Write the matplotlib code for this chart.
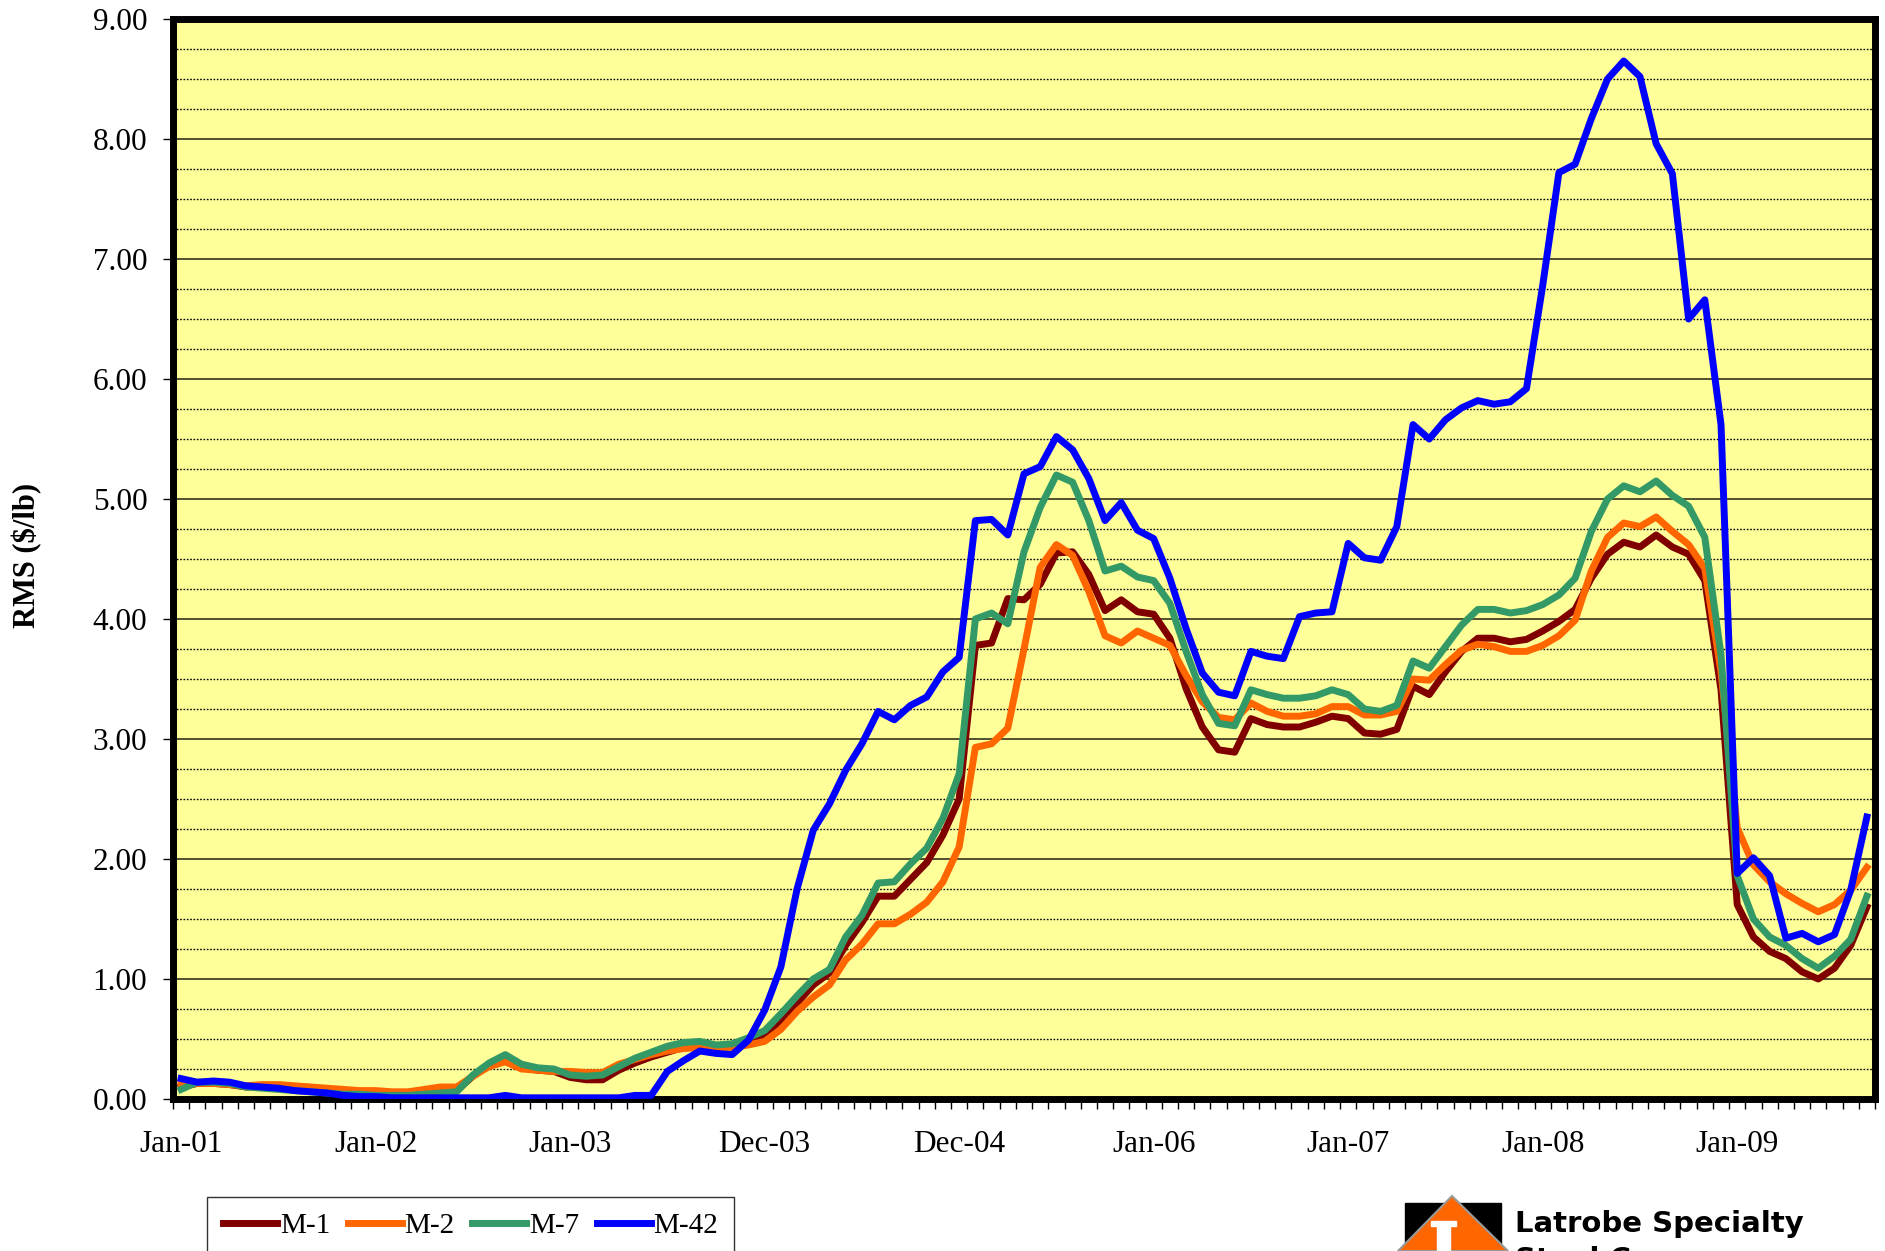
import numpy as np
import matplotlib
matplotlib.use("Agg")
import matplotlib.pyplot as plt
from matplotlib.ticker import MultipleLocator, FixedLocator
from matplotlib.patches import Polygon, Rectangle

plt.rcParams['font.family'] = ['Liberation Serif', 'DejaVu Serif']

# monthly RMS ($/lb), Jan-01 .. Sep-09
m1 = [0.10, 0.13, 0.13, 0.12, 0.10, 0.10, 0.09, 0.08, 0.07, 0.06,
      0.05, 0.04, 0.04, 0.03, 0.03, 0.04, 0.06, 0.07, 0.19, 0.28,
      0.33, 0.26, 0.24, 0.23, 0.18, 0.16, 0.16, 0.24, 0.30, 0.35,
      0.39, 0.43, 0.45, 0.43, 0.44, 0.47, 0.53, 0.66, 0.80, 0.95,
      1.05, 1.28, 1.47, 1.69, 1.69, 1.83, 1.97, 2.20, 2.50, 3.78,
      3.80, 4.17, 4.16, 4.29, 4.55, 4.56, 4.37, 4.07, 4.16, 4.06,
      4.04, 3.84, 3.42, 3.10, 2.91, 2.89, 3.17, 3.12, 3.10, 3.10,
      3.14, 3.19, 3.17, 3.05, 3.04, 3.08, 3.44, 3.37, 3.56, 3.73,
      3.84, 3.84, 3.81, 3.83, 3.90, 3.98, 4.08, 4.34, 4.54, 4.64,
      4.60, 4.70, 4.60, 4.54, 4.32, 3.41, 1.62, 1.35, 1.23, 1.17,
      1.06, 1.00, 1.09, 1.28, 1.60]
m2 = [0.12, 0.13, 0.13, 0.12, 0.11, 0.12, 0.12, 0.11, 0.10, 0.09,
      0.08, 0.07, 0.07, 0.06, 0.06, 0.08, 0.10, 0.10, 0.19, 0.27,
      0.31, 0.25, 0.24, 0.23, 0.23, 0.22, 0.22, 0.29, 0.33, 0.37,
      0.40, 0.42, 0.43, 0.43, 0.43, 0.45, 0.48, 0.58, 0.73, 0.85,
      0.95, 1.16, 1.29, 1.46, 1.46, 1.54, 1.64, 1.81, 2.10, 2.93,
      2.96, 3.09, 3.75, 4.43, 4.62, 4.53, 4.23, 3.86, 3.80, 3.90,
      3.84, 3.78, 3.53, 3.31, 3.18, 3.16, 3.30, 3.23, 3.19, 3.19,
      3.21, 3.27, 3.27, 3.20, 3.20, 3.23, 3.50, 3.49, 3.62, 3.74,
      3.79, 3.77, 3.73, 3.73, 3.78, 3.86, 3.99, 4.40, 4.68, 4.80,
      4.77, 4.85, 4.73, 4.62, 4.42, 3.56, 2.26, 1.95, 1.81, 1.71,
      1.63, 1.56, 1.62, 1.74, 1.93]
m7 = [0.08, 0.14, 0.14, 0.13, 0.10, 0.09, 0.08, 0.07, 0.06, 0.05,
      0.04, 0.04, 0.03, 0.03, 0.03, 0.04, 0.05, 0.06, 0.20, 0.30,
      0.37, 0.29, 0.26, 0.25, 0.20, 0.19, 0.20, 0.27, 0.34, 0.39,
      0.44, 0.47, 0.48, 0.45, 0.46, 0.51, 0.57, 0.71, 0.86, 1.00,
      1.08, 1.35, 1.53, 1.80, 1.81, 1.96, 2.09, 2.34, 2.71, 4.00,
      4.05, 3.96, 4.56, 4.93, 5.20, 5.14, 4.82, 4.40, 4.44, 4.35,
      4.32, 4.13, 3.73, 3.37, 3.13, 3.11, 3.41, 3.37, 3.34, 3.34,
      3.36, 3.41, 3.37, 3.25, 3.23, 3.28, 3.65, 3.59, 3.77, 3.95,
      4.08, 4.08, 4.05, 4.07, 4.12, 4.20, 4.34, 4.73, 5.00, 5.11,
      5.06, 5.15, 5.03, 4.94, 4.68, 3.70, 1.86, 1.50, 1.35, 1.28,
      1.17, 1.09, 1.19, 1.33, 1.69]
m42 = [0.17, 0.14, 0.15, 0.14, 0.11, 0.10, 0.09, 0.07, 0.06, 0.05,
       0.03, 0.02, 0.02, 0.01, 0.01, 0.01, 0.01, 0.01, 0.01, 0.01,
       0.03, 0.01, 0.01, 0.01, 0.01, 0.01, 0.01, 0.01, 0.03, 0.03,
       0.23, 0.32, 0.40, 0.38, 0.37, 0.49, 0.74, 1.10, 1.75, 2.24,
       2.46, 2.74, 2.96, 3.23, 3.16, 3.28, 3.35, 3.56, 3.68, 4.82,
       4.83, 4.70, 5.21, 5.27, 5.52, 5.41, 5.17, 4.82, 4.97, 4.74,
       4.67, 4.34, 3.92, 3.55, 3.39, 3.36, 3.73, 3.69, 3.67, 4.02,
       4.05, 4.06, 4.63, 4.51, 4.49, 4.77, 5.62, 5.50, 5.66, 5.76,
       5.82, 5.79, 5.81, 5.92, 6.78, 7.72, 7.79, 8.17, 8.50, 8.65,
       8.52, 7.96, 7.71, 6.50, 6.66, 5.62, 1.88, 2.01, 1.86, 1.34,
       1.38, 1.31, 1.37, 1.74, 2.35]

series_names = ["M-1", "M-2", "M-7", "M-42"]
series_colors = ["#800000", "#FF6600", "#339966", "#0000FF"]
tick_labels = ["Jan-01", "Jan-02", "Jan-03", "Dec-03", "Dec-04",
               "Jan-06", "Jan-07", "Jan-08", "Jan-09"]
label_step = 12

W, H = 1885, 1251
fig = plt.figure(figsize=(W / 100, H / 100), dpi=100)
ax = fig.add_axes([173 / W, 152 / H, 1702 / W, 1080 / H])
ax.set_facecolor("#FFFF99")
ax.set_axisbelow(True)

x = np.arange(len(m1))
for vals, name, col in zip([m1, m2, m7, m42], series_names, series_colors):
    ax.plot(x, vals, color=col, lw=5, label=name, zorder=3)

ax.set_xlim(-0.5, len(m1) - 0.5)
ax.set_ylim(0, 9)

# y axis
ax.yaxis.set_major_locator(MultipleLocator(1))
ax.yaxis.set_minor_locator(MultipleLocator(0.25))
ax.yaxis.set_major_formatter(lambda v, p: f"{v:.2f}")
ax.grid(which='major', axis='y', color='#505030', lw=1.4, ls='-')
ax.grid(which='minor', axis='y', color='black', lw=1.0, ls=(0, (1.2, 1.2)))
ax.tick_params(axis='y', which='major', direction='out', length=7.5, width=1,
               pad=11, labelsize=22.5)
ax.tick_params(axis='y', which='minor', length=0)

# x axis: categories, labels every 12 months, ticks between categories
ax.xaxis.set_major_locator(FixedLocator(range(0, len(m1), label_step)))
ax.set_xticklabels(tick_labels)
ax.xaxis.set_minor_locator(FixedLocator(np.arange(-0.5, len(m1), 1)))
ax.tick_params(axis='x', which='major', length=0, pad=22, labelsize=22.5)
ax.tick_params(axis='x', which='minor', direction='out', length=7.5, width=1)

for s in ax.spines.values():
    s.set_linewidth(5)
    s.set_color('black')

fig.text(27 / W, 1 - 555 / H, r"RMS (\$/lb)", rotation=90, fontsize=22,
         fontweight='bold', ha='center', va='center')

leg = fig.legend(loc='upper left', bbox_to_anchor=(207 / W, 1 - 1197 / H),
                 ncol=4, fontsize=21, frameon=True, fancybox=False,
                 edgecolor='black', handlelength=1.85, handletextpad=0.1,
                 columnspacing=0.6, borderpad=0.55, borderaxespad=0)
leg.get_frame().set_linewidth(1.0)

# company logo, bottom right (cut by the page edge)
lg = fig.add_axes([1390 / W, 0, 440 / W, 61 / H])
lg.set_xlim(1390, 1830)
lg.set_ylim(1251, 1190)
lg.axis('off')
lg.add_patch(Rectangle((1405, 1203), 96, 50, color='black'))
lg.add_patch(Polygon([(1452, 1196), (1398, 1251), (1508, 1251)], closed=True,
                     facecolor='#FF6600', edgecolor='#999999', lw=1.5))
lg.add_patch(Rectangle((1437, 1224), 13, 30, color='white'))
lg.add_patch(Rectangle((1431, 1221), 25, 5, color='white'))
lg.text(1515, 1224, "Latrobe Specialty", fontsize=21, fontweight='bold',
        family=['DejaVu Sans'], ha='left', va='center')
lg.text(1515, 1260, "Steel Company", fontsize=21, fontweight='bold',
        family=['DejaVu Sans'], ha='left', va='center', clip_on=False)

fig.savefig("out.png", dpi=100)
